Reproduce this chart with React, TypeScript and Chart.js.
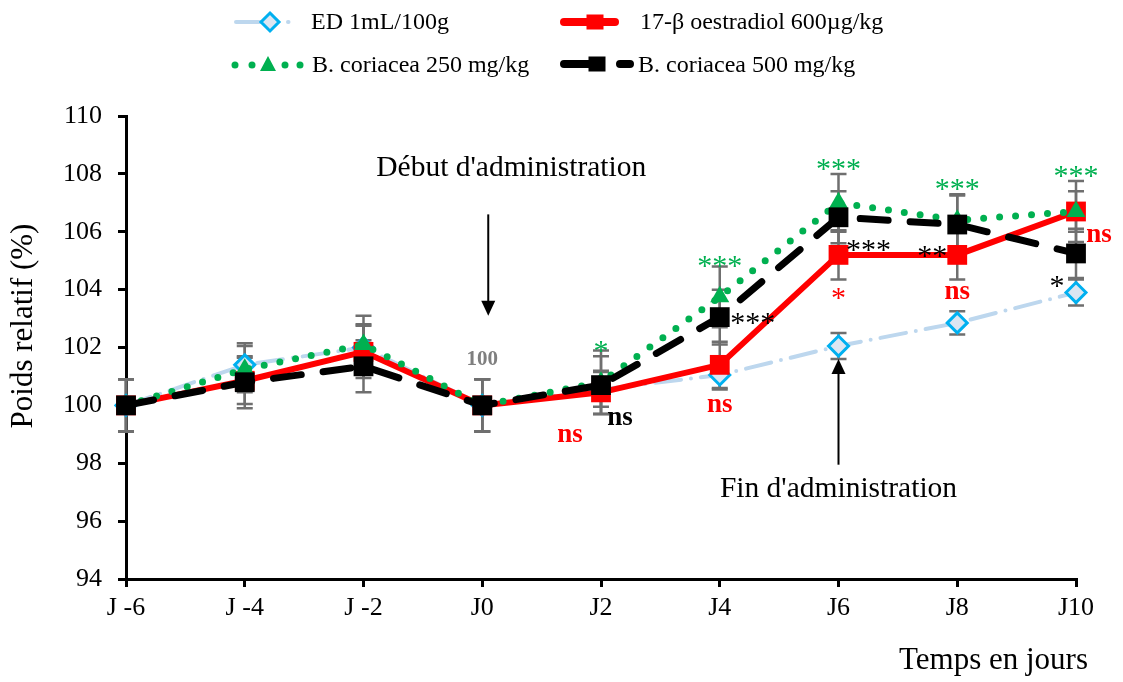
import React, { useEffect, useRef } from "react";
import { Chart, registerables } from "chart.js";

Chart.register(...registerables);

const categories = ["J -6", "J -4", "J -2", "J0", "J2", "J4", "J6", "J8", "J10"];
const yTicks = [94, 96, 98, 100, 102, 104, 106, 108, 110];

const edValues = [100, 101.4, 102.0, 100, 100.55, 101.05, 102.05, 102.85, 103.9];
const e2Values = [100, 100.85, 101.85, 100, 100.45, 101.4, 105.2, 105.2, 106.7];
const bc250Values = [100, 101.25, 102.1, 100, 100.8, 103.75, 107.0, 106.4, 106.7];
const bc500Values = [100, 100.8, 101.35, 100, 100.7, 103.05, 106.5, 106.25, 105.25];

const edErr = [0.9, 0.75, 0.8, 0.9, 0.6, 0.5, 0.45, 0.4, 0.45];
const e2Err = [0.9, 0.8, 0.9, 0.9, 0.75, 0.8, 0.85, 0.85, 0.7];
const bc250Err = [0.9, 0.8, 1.0, 0.9, 1.1, 1.05, 1.0, 0.9, 1.05];
const bc500Err = [0.9, 0.9, 0.9, 0.9, 1.0, 0.95, 0.9, 1.0, 0.85];

const seriesNames = [
  "ED 1mL/100g",
  "17-β oestradiol 600µg/kg",
  "B. coriacea 250 mg/kg",
  "B. coriacea 500 mg/kg",
];

// significance labels: [text, category index, pixel dx, value, color, bold]
const annotations: [string, number, number, number, string, boolean][] = [
  ["*", 4, 0, 102.1, "#00B050", false],
  ["***", 5, 0, 105.05, "#00B050", false],
  ["***", 6, 0, 108.4, "#00B050", false],
  ["***", 7, 0, 107.7, "#00B050", false],
  ["***", 8, 0, 108.15, "#00B050", false],
  ["100", 3, 0, 101.57, "#7F7F7F", true],
  ["ns", 4, -31, 98.98, "#FF0000", true],
  ["ns", 4, 19, 99.57, "#000000", true],
  ["ns", 5, 0, 100.0, "#FF0000", true],
  ["***", 5, 33, 103.1, "#000000", false],
  ["*", 6, 0, 103.95, "#FF0000", false],
  ["***", 6, 30, 105.6, "#000000", false],
  ["**", 7, -25, 105.4, "#000000", false],
  ["ns", 7, 0, 103.9, "#FF0000", true],
  ["ns", 8, 23, 105.9, "#FF0000", true],
  ["*", 8, -19, 104.35, "#000000", false],
];

const SERIF = "'Liberation Serif', 'Times New Roman', serif";

function drawMarker(ctx: CanvasRenderingContext2D, kind: string, x: number, y: number) {
  ctx.save();
  ctx.setLineDash([]);
  if (kind === "diamond") {
    const r = 9;
    ctx.beginPath();
    ctx.moveTo(x, y - r);
    ctx.lineTo(x + r, y);
    ctx.lineTo(x, y + r);
    ctx.lineTo(x - r, y);
    ctx.closePath();
    ctx.fillStyle = "#DCE6F2";
    ctx.fill();
    ctx.lineWidth = 3;
    ctx.strokeStyle = "#00B0F0";
    ctx.stroke();
  } else if (kind === "redsq") {
    ctx.fillStyle = "#FF0000";
    ctx.fillRect(x - 8.5, y - 7.5, 17, 15);
  } else if (kind === "blacksq") {
    ctx.fillStyle = "#000000";
    ctx.fillRect(x - 8.5, y - 7.5, 17, 15);
  } else if (kind === "tri") {
    ctx.fillStyle = "#00B050";
    ctx.beginPath();
    ctx.moveTo(x, y - 9);
    ctx.lineTo(x + 8, y + 6);
    ctx.lineTo(x - 8, y + 6);
    ctx.closePath();
    ctx.fill();
  }
  ctx.restore();
}

function arrow(ctx: CanvasRenderingContext2D, x: number, y1: number, y2: number) {
  ctx.save();
  ctx.strokeStyle = "#000";
  ctx.fillStyle = "#000";
  ctx.lineWidth = 2;
  ctx.setLineDash([]);
  const dir = y2 > y1 ? 1 : -1;
  ctx.beginPath();
  ctx.moveTo(x, y1);
  ctx.lineTo(x, y2 - dir * 10);
  ctx.stroke();
  ctx.beginPath();
  ctx.moveTo(x, y2);
  ctx.lineTo(x - 7, y2 - dir * 15);
  ctx.lineTo(x + 7, y2 - dir * 15);
  ctx.closePath();
  ctx.fill();
  ctx.restore();
}

const overlayPlugin = {
  id: "overlay",
  beforeDatasetsDraw(chart: any) {
    const ctx = chart.ctx as CanvasRenderingContext2D;
    const xs = chart.scales.x;
    const ys = chart.scales.y;
    const sets: [number[], number[]][] = [
      [edValues, edErr],
      [e2Values, e2Err],
      [bc250Values, bc250Err],
      [bc500Values, bc500Err],
    ];
    ctx.save();
    ctx.strokeStyle = "#6F6F6F";
    ctx.lineWidth = 2.5;
    sets.forEach(([vals, errs]) => {
      vals.forEach((v, i) => {
        const x = xs.getPixelForValue(i);
        const yt = ys.getPixelForValue(v + errs[i]);
        const yb = ys.getPixelForValue(v - errs[i]);
        ctx.beginPath();
        ctx.moveTo(x, yt);
        ctx.lineTo(x, yb);
        ctx.moveTo(x - 8, yt);
        ctx.lineTo(x + 8, yt);
        ctx.moveTo(x - 8, yb);
        ctx.lineTo(x + 8, yb);
        ctx.stroke();
      });
    });
    ctx.restore();
  },
  afterDatasetsDraw(chart: any) {
    const ctx = chart.ctx as CanvasRenderingContext2D;
    const xs = chart.scales.x;
    const ys = chart.scales.y;
    ctx.save();
    ctx.textAlign = "center";
    ctx.textBaseline = "middle";
    annotations.forEach(([t, idx, dx, val, color, bold]) => {
      const x = xs.getPixelForValue(idx) + dx;
      const y = ys.getPixelForValue(val);
      ctx.fillStyle = color;
      if (t.startsWith("*")) {
        ctx.font = `30px ${SERIF}`;
        ctx.fillText(t, x, y + 8);
      } else if (t === "100") {
        ctx.font = `bold 21px ${SERIF}`;
        ctx.fillText(t, x, y);
      } else {
        ctx.font = `${bold ? "bold " : ""}27px ${SERIF}`;
        ctx.fillText(t, x, y);
      }
    });
    // administration markers
    ctx.font = `29.5px ${SERIF}`;
    ctx.fillStyle = "#000";
    const xStart = xs.getPixelForValue(3) + 6;
    ctx.fillText("Début d'administration", xStart + 23, ys.getPixelForValue(108.2));
    arrow(ctx, xStart, ys.getPixelForValue(106.6), ys.getPixelForValue(103.1));
    const xEnd = xs.getPixelForValue(6);
    ctx.fillText("Fin d'administration", xEnd, ys.getPixelForValue(97.1));
    arrow(ctx, xEnd, ys.getPixelForValue(97.95), ys.getPixelForValue(101.6));
    ctx.restore();
  },
  afterDraw(chart: any) {
    const ctx = chart.ctx as CanvasRenderingContext2D;
    ctx.save();
    // axis titles
    ctx.fillStyle = "#000";
    ctx.font = `31px ${SERIF}`;
    ctx.textAlign = "right";
    ctx.textBaseline = "middle";
    ctx.fillText("Temps en jours", 1088, 661);
    ctx.save();
    ctx.translate(24, 326);
    ctx.rotate(-Math.PI / 2);
    ctx.textAlign = "center";
    ctx.fillText("Poids relatif (%)", 0, 0);
    ctx.restore();

    // legend
    ctx.lineCap = "round";
    // ED
    ctx.strokeStyle = "#BDD7EE";
    ctx.lineWidth = 4;
    ctx.beginPath();
    ctx.moveTo(236, 22);
    ctx.lineTo(262, 22);
    ctx.stroke();
    ctx.beginPath();
    ctx.moveTo(288, 22);
    ctx.lineTo(288.5, 22);
    ctx.stroke();
    drawMarker(ctx, "diamond", 270, 22);
    // red
    ctx.strokeStyle = "#FF0000";
    ctx.lineWidth = 8;
    ctx.beginPath();
    ctx.moveTo(564, 22);
    ctx.lineTo(615, 22);
    ctx.stroke();
    drawMarker(ctx, "redsq", 595, 22);
    // green
    ctx.fillStyle = "#00B050";
    [235, 252, 285, 300].forEach((x) => {
      ctx.beginPath();
      ctx.arc(x, 65, 3.5, 0, Math.PI * 2);
      ctx.fill();
    });
    drawMarker(ctx, "tri", 268, 65);
    // black
    ctx.strokeStyle = "#000";
    ctx.lineWidth = 8;
    ctx.beginPath();
    ctx.moveTo(564, 64);
    ctx.lineTo(590, 64);
    ctx.moveTo(620, 64);
    ctx.lineTo(630, 64);
    ctx.stroke();
    drawMarker(ctx, "blacksq", 597, 64);

    ctx.fillStyle = "#000";
    ctx.font = `24px ${SERIF}`;
    ctx.textAlign = "left";
    ctx.textBaseline = "middle";
    ctx.fillText(seriesNames[0], 311, 23);
    ctx.fillText(seriesNames[1], 640, 23);
    ctx.fillText(seriesNames[2], 312, 66);
    ctx.fillText(seriesNames[3], 638, 66);
    ctx.restore();
  },
};

export default function App() {
  const ref = useRef<HTMLCanvasElement | null>(null);
  useEffect(() => {
    if (!ref.current) return;
    const chart = new Chart(ref.current, {
      type: "line",
      data: {
        labels: categories,
        datasets: [
          {
            label: seriesNames[0],
            data: edValues,
            borderColor: "#BDD7EE",
            borderWidth: 4,
            borderDash: [26, 10, 0, 10],
            borderCapStyle: "round",
            pointStyle: "rectRot",
            pointRadius: 10,
            pointBorderWidth: 3,
            pointBorderColor: "#00B0F0",
            pointBackgroundColor: "#DCE6F2",
            order: 4,
          },
          {
            label: seriesNames[1],
            data: e2Values,
            borderColor: "#FF0000",
            borderWidth: 6,
            borderCapStyle: "round",
            pointStyle: "rect",
            pointRadius: 14,
            pointBorderWidth: 0,
            pointBackgroundColor: "#FF0000",
            pointBorderColor: "#FF0000",
            order: 3,
          },
          {
            label: seriesNames[2],
            data: bc250Values,
            borderColor: "#00B050",
            borderWidth: 7,
            borderDash: [0, 16],
            borderCapStyle: "round",
            pointStyle: "triangle",
            pointRadius: 11,
            pointBorderWidth: 0,
            pointBackgroundColor: "#00B050",
            pointBorderColor: "#00B050",
            order: 2,
          },
          {
            label: seriesNames[3],
            data: bc500Values,
            borderColor: "#000000",
            borderWidth: 7,
            borderDash: [28, 22],
            borderCapStyle: "round",
            pointStyle: "rect",
            pointRadius: 14,
            pointBorderWidth: 0,
            pointBackgroundColor: "#000000",
            pointBorderColor: "#000000",
            order: 1,
          },
        ],
      },
      options: {
        responsive: false,
        animation: false,
        devicePixelRatio: 1,
        layout: { padding: { left: 0, right: 47, top: 116, bottom: 43 } },
        plugins: {
          legend: { display: false },
          tooltip: { enabled: false },
        },
        scales: {
          x: {
            type: "category",
            offset: false,
            afterFit: (s: any) => {
              s.height = 60;
            },
            grid: {
              offset: false,
              drawOnChartArea: false,
              drawTicks: true,
              tickLength: 8,
              color: "#000",
              lineWidth: 3,
            },
            border: { color: "#000", width: 3 },
            ticks: {
              color: "#000",
              font: { family: SERIF, size: 26 },
              padding: 6,
              maxRotation: 0,
              autoSkip: false,
            },
          },
          y: {
            min: 94,
            max: 110,
            afterFit: (s: any) => {
              s.width = 126;
            },
            afterBuildTicks: (s: any) => {
              s.ticks = yTicks.map((v) => ({ value: v }));
            },
            grid: {
              drawOnChartArea: false,
              drawTicks: true,
              tickLength: 8,
              color: "#000",
              lineWidth: 3,
            },
            border: { color: "#000", width: 3 },
            ticks: {
              color: "#000",
              font: { family: SERIF, size: 26 },
              padding: 16,
            },
          },
        },
      },
      plugins: [overlayPlugin],
    });
    return () => chart.destroy();
  }, []);
  return (
    <div style={{ position: "absolute", left: 0, top: 0, width: 1123, height: 682, background: "#fff" }}>
      <canvas ref={ref} width={1123} height={682} />
    </div>
  );
}
